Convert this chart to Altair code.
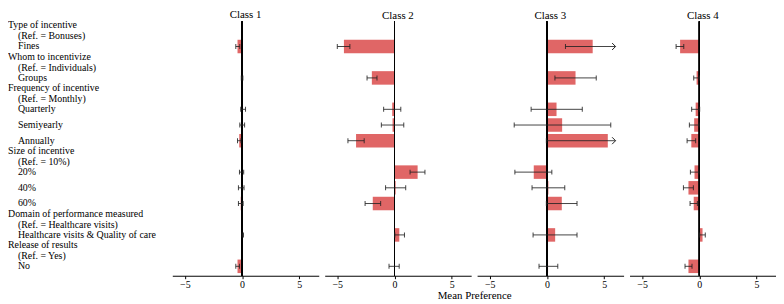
import altair as alt
import pandas as pd

FONT = "Liberation Serif"
BAR = "#e06666"
ERR = "#222222"

# ---- data -------------------------------------------------------------
headers = ["Type of incentive", "Whom to incentivize", "Frequency of incentive",
           "Size of incentive", "Domain of performance measured", "Release of results"]
refs = ["(Ref. = Bonuses)", "(Ref. = Individuals)", "(Ref. = Monthly)",
        "(Ref. = 10%)", "(Ref. = Healthcare visits)", "(Ref. = Yes)"]
levels = ["Fines", "Groups", "Quarterly", "Semiyearly", "Annually",
          "20%", "40%", "60%", "Healthcare visits & Quality of care", "No"]
level_group = [0, 1, 2, 2, 2, 3, 3, 3, 4, 5]

classes = ["Class 1", "Class 2", "Class 3", "Class 4"]

mean_c1 = [-0.40, 0.00, 0.08, 0.00, -0.25, -0.05, -0.08, -0.12, 0.07, -0.40]
lo_c1 = [-0.55, -0.07, -0.12, -0.20, -0.40, -0.23, -0.32, -0.32, 0.00, -0.55]
hi_c1 = [-0.20, 0.07, 0.30, 0.22, -0.10, 0.14, 0.17, 0.09, 0.12, -0.22]

mean_c2 = [-4.42, -1.98, -0.20, -0.17, -3.36, 2.02, 0.10, -1.90, 0.42, -0.03]
lo_c2 = [-5.00, -2.40, -0.95, -1.15, -4.07, 1.36, -0.78, -2.57, 0.03, -0.48]
hi_c2 = [-3.90, -1.53, 0.55, 0.81, -2.65, 2.66, 0.98, -1.21, 0.87, 0.41]

mean_c3 = [4.00, 2.50, 0.84, 1.33, 5.32, -1.15, 0.13, 1.30, 0.72, 0.10]
lo_c3 = [1.62, 0.70, -1.38, -2.86, -0.05, -2.80, -1.30, -0.05, -1.21, -0.69]
hi_c3 = [6.40, 4.31, 3.09, 5.58, 10.70, 0.43, 1.56, 2.63, 2.63, 0.95]

mean_c4 = [-1.68, -0.24, -0.32, -0.45, -0.70, -0.42, -0.95, -0.49, 0.28, -0.95]
lo_c4 = [-2.03, -0.49, -0.67, -0.87, -1.07, -0.78, -1.39, -0.81, 0.03, -1.25]
hi_c4 = [-1.36, 0.00, 0.03, -0.03, -0.32, -0.03, -0.52, -0.17, 0.52, -0.64]

means = [mean_c1, mean_c2, mean_c3, mean_c4]
los = [lo_c1, lo_c2, lo_c3, lo_c4]
his = [hi_c1, hi_c2, hi_c3, hi_c4]

x_ticks = [-5, 0, 5]
x_domain = [-6.1, 6.7]
clip_at = 6.0

# ---- layout helpers ---------------------------------------------------
slot_order = []
for g, h in enumerate(headers):
    slot_order.append(h)
    slot_order += [lv for lv, lg in zip(levels, level_group) if lg == g]

xs = alt.Scale(domain=x_domain, nice=False, zero=False)


def y_enc():
    return alt.Y("slot:N", sort=slot_order,
                 scale=alt.Scale(domain=slot_order, paddingInner=0.14, paddingOuter=0.17),
                 axis=None)


def x_axis(i):
    if i == 1:
        return alt.Axis(values=x_ticks, grid=False, title="Mean Preference",
                        titleX=151, titleAlign="center")
    return alt.Axis(values=x_ticks, grid=False, title=None)


def panel(i):
    df = pd.DataFrame({"slot": levels, "mean": means[i], "lo": los[i], "hi": his[i]})
    df["hi_draw"] = df["hi"].clip(upper=clip_at)
    df["arrow"] = df["hi"] > clip_at

    caps = pd.concat([
        pd.DataFrame({"slot": df["slot"], "v": df["lo"]}),
        pd.DataFrame({"slot": df.loc[~df["arrow"], "slot"], "v": df.loc[~df["arrow"], "hi"]}),
    ])
    arrows = pd.DataFrame({"slot": df.loc[df["arrow"], "slot"], "v": df.loc[df["arrow"], "hi_draw"]})

    bars = alt.Chart(df).mark_bar(color=BAR).encode(
        x=alt.X("mean:Q", scale=xs, axis=x_axis(i)), y=y_enc())
    zero = alt.Chart(df).mark_rule(color="black", strokeWidth=1).encode(x=alt.datum(0))
    err = alt.Chart(df).mark_rule(color=ERR, strokeWidth=1, opacity=0.85).encode(
        x="lo:Q", x2="hi_draw:Q", y=y_enc())
    capm = alt.Chart(caps).mark_tick(color=ERR, size=5, thickness=1, opacity=0.85).encode(
        x="v:Q", y=y_enc())
    layers = [bars, zero, err, capm]
    if len(arrows):
        arr = alt.Chart(arrows).mark_point(shape="M-1,-1L0,0L-1,1", filled=False,
                                           color=ERR, size=49, strokeWidth=1, opacity=1).encode(
            x="v:Q", y=y_enc())
        layers.append(arr)

    if i == 0:
        hdf = pd.DataFrame({"slot": headers, "text": headers})
        rdf = pd.DataFrame({"slot": headers, "text": refs})
        ldf = pd.DataFrame({"slot": levels, "text": levels})
        common = dict(align="left", baseline="middle", font=FONT, fontSize=10, color="black")
        layers.append(alt.Chart(hdf).mark_text(dy=-5.5, **common).encode(
            x=alt.value(-166), y=y_enc(), text="text:N"))
        layers.append(alt.Chart(rdf).mark_text(dy=5.5, **common).encode(
            x=alt.value(-156), y=y_enc(), text="text:N"))
        layers.append(alt.Chart(ldf).mark_text(**common).encode(
            x=alt.value(-156), y=y_enc(), text="text:N"))

    return alt.layer(*layers).properties(
        width=148, height=257,
        title=alt.TitleParams(classes[i], font=FONT, fontSize=11, fontWeight="normal",
                              color="black", anchor="middle", offset=0))


chart = alt.hconcat(*[panel(i) for i in range(4)], spacing=6, bounds="flush").properties(
    padding={"left": 0, "top": 0, "right": 0, "bottom": 0}
).configure_view(stroke=None).configure_axis(
    domainColor="black", tickColor="black", labelColor="black",
    labelFont=FONT, labelFontSize=10, tickSize=3, labelPadding=1,
    titleFont=FONT, titleFontSize=11, titleFontWeight="normal", titleColor="black",
    titlePadding=0
)

chart.save("out.html", embed_options={"renderer": "svg", "actions": False})
